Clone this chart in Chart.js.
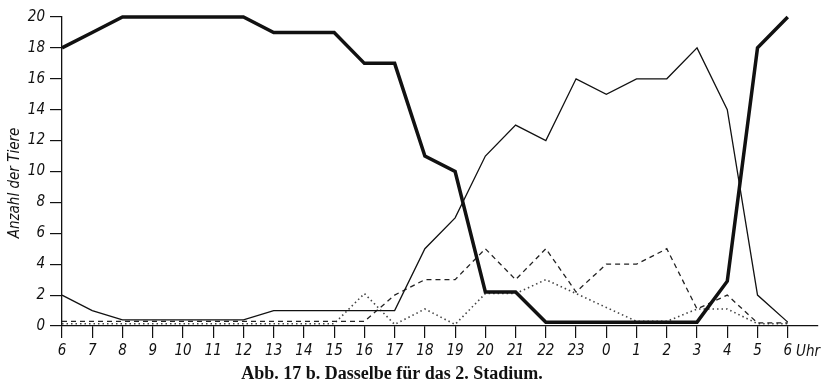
<!DOCTYPE html>
<html>
<head>
<meta charset="utf-8">
<script src="https://cdn.jsdelivr.net/npm/chart.js@4/dist/chart.umd.min.js"></script>
<style>
  html, body { margin: 0; padding: 0; background: #fff; }
  #wrap { width: 822px; height: 385px; }
</style>
</head>
<body>
<div id="wrap"><canvas id="c" width="822" height="385"></canvas></div>
<script>
// Hours (x categories)
const hours = ['6','7','8','9','10','11','12','13','14','15','16','17','18','19','20','21','22','23','0','1','2','3','4','5','6'];
// Series values (Anzahl der Tiere)
const thickSolid = [18,19,20,20,20,20,20,19,19,19,17,17,11,10,2.2,2.2,0.25,0.25,0.25,0.25,0.25,0.25,2.9,18,20];
const thinSolid  = [2,1,0.4,0.4,0.4,0.4,0.4,1,1,1,1,1,5,7,11,13,12,16,15,16,16,18,14,2,0.25];
const dashed     = [0.3,0.3,0.3,0.3,0.3,0.3,0.3,0.3,0.3,0.3,0.3,2,3,3,5,3,5,2.2,4,4,5,1.1,2,0.2,0.2];
const dotted     = [0.15,0.15,0.15,0.15,0.15,0.15,0.15,0.15,0.15,0.15,2.1,0.1,1.1,0.1,2.1,2.1,3,2.1,1.2,0.3,0.3,1.1,1.1,0.15,0.15];
const yTicks = [0,2,4,6,8,10,12,14,16,18,20];
const yTitle = 'Anzahl der Tiere';
const unitLabel = 'Uhr';
const caption = 'Abb. 17 b. Dasselbe für das 2. Stadium.';

const tickFont = "'Liberation Sans Narrow', 'DejaVu Sans Condensed', 'Roboto Condensed', sans-serif";
const toPts = arr => arr.map((v, i) => ({ x: i, y: v }));

const extraText = {
  id: 'extraText',
  afterDraw(chart) {
    const ctx = chart.ctx;
    ctx.save();
    ctx.fillStyle = '#111';
    ctx.font = 'italic 15px ' + tickFont;
    ctx.textBaseline = 'middle';
    ctx.textAlign = 'left';
    ctx.fillText(unitLabel, 796, 352);
    ctx.font = "bold 18px 'Liberation Serif', 'DejaVu Serif', serif";
    ctx.textAlign = 'center';
    ctx.fillText(caption, 392, 374);
    ctx.translate(15, 183);
    ctx.rotate(-Math.PI / 2);
    ctx.font = 'italic 15px ' + tickFont;
    ctx.textAlign = 'center';
    ctx.fillText(yTitle, 0, 0);
    ctx.restore();
  }
};

new Chart(document.getElementById('c'), {
  type: 'line',
  data: {
    datasets: [
      { data: toPts(thickSolid), borderColor: '#111', borderWidth: 3.5, pointRadius: 0, tension: 0, clip: false },
      { data: toPts(thinSolid), borderColor: '#111', borderWidth: 1.3, pointRadius: 0, tension: 0, clip: false },
      { data: toPts(dashed), borderColor: '#222', borderWidth: 1.3, borderDash: [5, 4], pointRadius: 0, tension: 0, clip: false },
      { data: toPts(dotted), borderColor: '#444', borderWidth: 1.6, borderDash: [1.5, 3], pointRadius: 0, tension: 0, clip: false }
    ]
  },
  options: {
    responsive: false,
    animation: false,
    layout: { padding: { top: 17, right: 4, left: 0, bottom: 23 } },
    plugins: {
      legend: { display: false },
      tooltip: { enabled: false },
      title: { display: false }
    },
    scales: {
      x: {
        type: 'linear',
        min: 0,
        max: 25,
        afterBuildTicks(scale) {
          scale.ticks = hours.map((h, i) => ({ value: i }));
        },
        afterFit(scale) { scale.height = 36; },
        ticks: {
          autoSkip: false,
          maxRotation: 0,
          padding: 4,
          color: '#111',
          font: { family: tickFont, size: 15, style: 'italic' },
          callback: (v) => hours[v]
        },
        grid: { drawOnChartArea: false, drawTicks: true, tickLength: 12, color: '#111', lineWidth: 1.2 },
        border: { display: true, color: '#111', width: 1.3 }
      },
      y: {
        type: 'linear',
        min: 0,
        max: 20,
        afterBuildTicks(scale) {
          scale.ticks = yTicks.map(v => ({ value: v }));
        },
        afterFit(scale) { scale.width = 62; },
        ticks: {
          padding: 5,
          color: '#111',
          font: { family: tickFont, size: 15, style: 'italic' }
        },
        grid: { drawOnChartArea: false, drawTicks: true, tickLength: 12, color: '#111', lineWidth: 1.2 },
        border: { display: true, color: '#111', width: 1.3 }
      }
    }
  },
  plugins: [extraText]
});
</script>
</body>
</html>
